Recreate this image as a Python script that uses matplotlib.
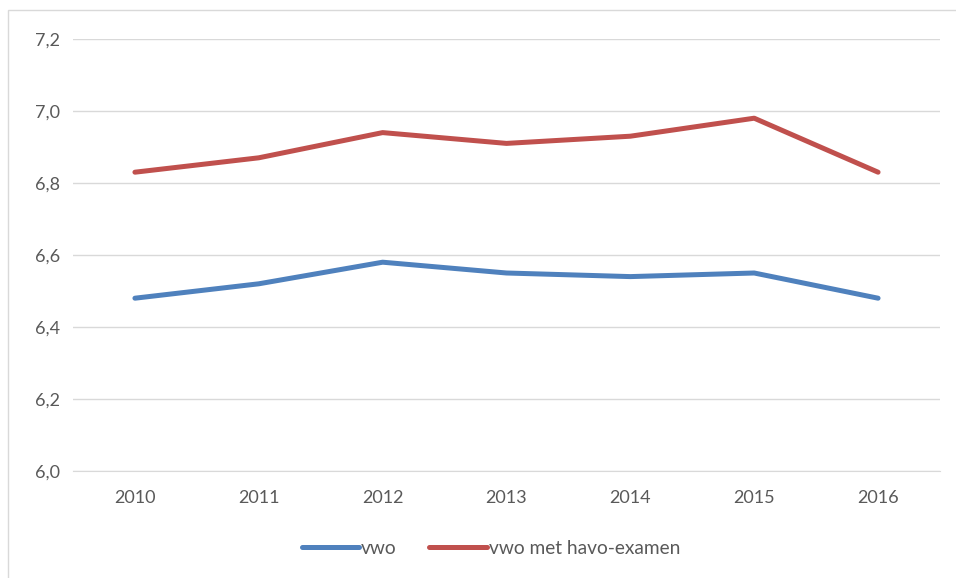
import matplotlib.pyplot as plt
from matplotlib.patches import Rectangle
from matplotlib.ticker import FuncFormatter

years = ["2010", "2011", "2012", "2013", "2014", "2015", "2016"]
vwo = [6.48, 6.52, 6.58, 6.55, 6.54, 6.55, 6.48]
vwo_havo = [6.83, 6.87, 6.94, 6.91, 6.93, 6.98, 6.83]
yticks = [6.0, 6.2, 6.4, 6.6, 6.8, 7.0, 7.2]

plt.rcParams['font.family'] = ['Lato', 'DejaVu Sans']
text_color = '#595959'

fig = plt.figure(figsize=(9.56, 5.78), dpi=100)
ax = fig.add_axes([73 / 956, 1 - 471 / 578, 867 / 956, 432 / 578])

# chart border
fig.patches.append(Rectangle((8 / 956, -0.1), 1.1, 1 - 10 / 578 + 0.1,
                             transform=fig.transFigure, fill=False,
                             edgecolor='#d9d9d9', linewidth=1))

x = range(len(years))
ax.plot(x, vwo, color='#4f81bd', linewidth=3.6, solid_capstyle='round', label='vwo')
ax.plot(x, vwo_havo, color='#c0504d', linewidth=3.6, solid_capstyle='round',
        label='vwo met havo-examen')

ax.set_xlim(-0.5, len(years) - 0.5)
ax.set_ylim(6.0, 7.2)
ax.set_yticks(yticks)
ax.yaxis.set_major_formatter(FuncFormatter(lambda v, p: f"{v:.1f}".replace('.', ',')))
ax.set_xticks(list(x))
ax.set_xticklabels(years)
ax.grid(axis='y', color='#d9d9d9', linewidth=1)
ax.set_axisbelow(True)
for side in ['top', 'right', 'left']:
    ax.spines[side].set_visible(False)
ax.spines['bottom'].set_color('#d9d9d9')
ax.tick_params(axis='both', length=0, labelsize=13, colors=text_color, pad=14)
ax.tick_params(axis='y', pad=9)

fig.legend(loc='center', bbox_to_anchor=(0.5 + 13 / 956, 1 - 548 / 578), ncol=2,
           frameon=False, fontsize=13.8, labelcolor=text_color, handlelength=3.0,
           handletextpad=0.1, columnspacing=1.7)

fig.savefig('out.png', dpi=100)
